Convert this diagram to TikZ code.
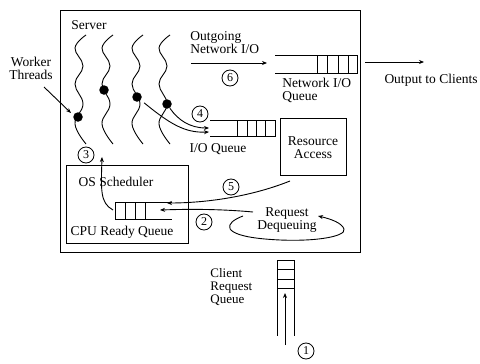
\documentclass[tikz,border=0pt]{standalone}
\usepackage{fontspec}
\setmainfont{Liberation Serif}
\usetikzlibrary{arrows.meta}
\begin{document}
\begin{tikzpicture}[x=1pt,y=-1pt,line width=0.9pt,
  lbl/.style={font=\fontsize{13.5}{13}\selectfont, inner sep=0pt, align=center},
  lbll/.style={lbl, align=left},
  num/.style={circle, draw, line width=0.8pt, minimum size=16pt, inner sep=0pt, font=\fontsize{12}{12}\selectfont},
  arr/.style={-{Stealth[length=5pt,width=4pt]}},
  dot/.style={circle, fill, inner sep=0pt, minimum size=9.5pt},
  boxn/.style={draw, inner sep=0pt}]
\useasboundingbox (0,0) rectangle (480,364);

% server box
\node[boxn, minimum width=300pt, minimum height=242pt, anchor=north west] (server) at (60,10) {};
\node[lbl] (servert) at (89,25) {Server};

% worker threads
\node[lbl] (wt) at (31,68) {Worker\\Threads};
\coordinate (wtstart) at (44,87);
\coordinate (wtend) at (71,113);
\draw[arr] (wtstart) -- (wtend);

\foreach \xc in {79,106,136,163}{
  \draw plot[smooth, tension=0.7] coordinates {({\xc+7},35) ({\xc-4},48) ({\xc+4},66) ({\xc-4},84) ({\xc+4},104) ({\xc-4},124) ({\xc+7},144)};
}
\node[dot] (d1) at (78,117) {};
\node[dot] (d2) at (104,90) {};
\node[dot] (d3) at (137,97) {};
\node[dot] (d4) at (167,104) {};

% I/O queue
\coordinate (ioin1) at (209,128);
\coordinate (ioin2) at (209,132);
\draw (210,120) -- (275,120) (210,136) -- (275,136);
\draw (237,120) rectangle (275,136);
\draw (247,120) -- (247,136) (256,120) -- (256,136) (265,120) -- (265,136);
\node[lbl] (iot) at (218,149) {I/O Queue};
\draw[arr, shorten <=4pt] (d3) .. controls (170,124) and (185,133) .. (ioin2);
\draw[arr] (d4) .. controls (178,120) and (190,128) .. (ioin1);
\node[num] (c4) at (200,114) {4};

% outgoing network I/O
\node[lbll, anchor=west] (outt) at (190,43) {Outgoing\\Network I/O};
\coordinate (a6s) at (191,63);
\coordinate (a6e) at (267,63);
\draw[arr] (a6s) -- (a6e);
\node[num] (c6) at (230,78) {6};

% network I/O queue
\draw (275,55) -- (357,55) (275,73) -- (357,73);
\draw (317,55) rectangle (357,73);
\draw (327,55) -- (327,73) (338,55) -- (338,73) (348,55) -- (348,73);
\node[lbll, anchor=west] (nqt) at (282,90) {Network I/O\\Queue};

% output
\coordinate (os) at (365,62);
\coordinate (oe) at (424,62);
\draw[arr] (os) -- (oe);
\node[lbl] (outc) at (431,80) {Output to Clients};

% resource access
\node[boxn, minimum width=66pt, minimum height=57pt] (res) at (313,146.5) {};
\node[lbl] (rest) at (313,148) {Resource\\Access};

% OS scheduler
\node[boxn, minimum width=122pt, minimum height=78pt] (os2) at (127,204) {};
\node[lbl] (ost) at (116,182) {OS Scheduler};
\node[lbl] (cput) at (122,232) {CPU Ready Queue};
\draw (115,202) -- (172,202) (115,219) -- (172,219);
\draw (115,202) rectangle (145,219);
\draw (125,202) -- (125,219) (135,202) -- (135,219);
\coordinate (cpuout) at (113,210);
\coordinate (a3e) at (102,157);
\draw[arr] (cpuout) .. controls (100,203) and (101,190) .. (a3e);
\node[num] (c3) at (86,155) {3};

% arrow 5
\coordinate (a5s) at (290,181);
\coordinate (a5e) at (167,203);
\draw[arr] (a5s) .. controls (250,197) and (205,203) .. (a5e);
\node[num] (c5) at (231,187) {5};

% arrow 2
\coordinate (a2s) at (253,212);
\coordinate (a2e) at (160,210);
\draw[arr] (a2s) .. controls (220,209) and (190,209) .. (a2e);
\node[num] (c2) at (204,222) {2};

% request dequeuing
\node[lbl, font=\fontsize{13.5}{11}\selectfont] (rdq) at (287,220) {Request\\Dequeuing};
\coordinate (lps) at (243,216);
\coordinate (lpe) at (318,216);
\draw[arr] (lps) .. controls (224,223) and (220,235) .. (265,239)
  .. controls (310,243) and (347,237) .. (344,229)
  .. controls (342,223) and (331,219) .. (lpe);

% client request queue
\node[lbll, anchor=west, font=\fontsize{13}{13}\selectfont] (cqt) at (210,287) {Client\\Request\\Queue};
\draw (277,260) -- (277,336) (294,260) -- (294,336);
\draw (277,260) -- (294,260) (277,269) -- (294,269) (277,279) -- (294,279) (277,288) -- (294,288);
\coordinate (a1s) at (285,345);
\coordinate (a1e) at (285,293);
\draw[arr] (a1s) -- (a1e);
\node[num] (c1) at (306,351) {1};
\end{tikzpicture}
\end{document}
